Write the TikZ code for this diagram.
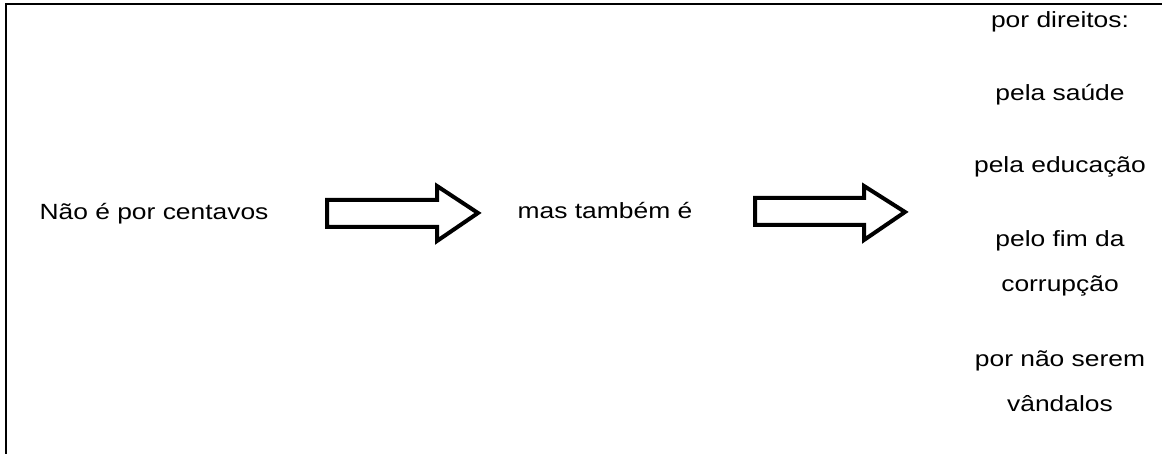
\documentclass[tikz,border=0pt]{standalone}
\usepackage{fontspec}
\setmainfont[FakeStretch=1.2]{Liberation Sans}
\usepackage{tikz}

\begin{document}
\begin{tikzpicture}[x=1bp,y=1bp,
    txt/.style={inner sep=0pt, anchor=base, font=\fontsize{22bp}{45bp}\selectfont, align=center}]
    \clip (0,0) rectangle (1162,454);

    % Outer rectangle
    \draw[line width=2.5bp] (6,450) rectangle (1180,-20);

    % Left and middle labels
    \node[txt] (centavos) at (154,234) {Não é por centavos};
    \node[txt] (tambem) at (605,235) {mas também é};

    % Block arrows
    \draw[line width=4bp, miter limit=10] (327,254) -- (437,254) -- (437,268) -- (478,241)
        -- (437,213) -- (437,227) -- (327,227) -- cycle;
    \draw[line width=4bp, miter limit=10] (755,256) -- (864,256) -- (864,268) -- (905,242)
        -- (864,214) -- (864,229) -- (755,229) -- cycle;

    % Right column
    \node[txt] (direitos) at (1060,426) {por direitos:};
    \node[txt] (saude) at (1060,353) {pela saúde};
    \node[txt] (educacao) at (1060,281) {pela educação};
    \node[txt] (fim) at (1060,162) {pelo fim da\\corrupção};
    \node[txt] (vandalos) at (1060,42) {por não serem\\vândalos};

\end{tikzpicture}
\end{document}
